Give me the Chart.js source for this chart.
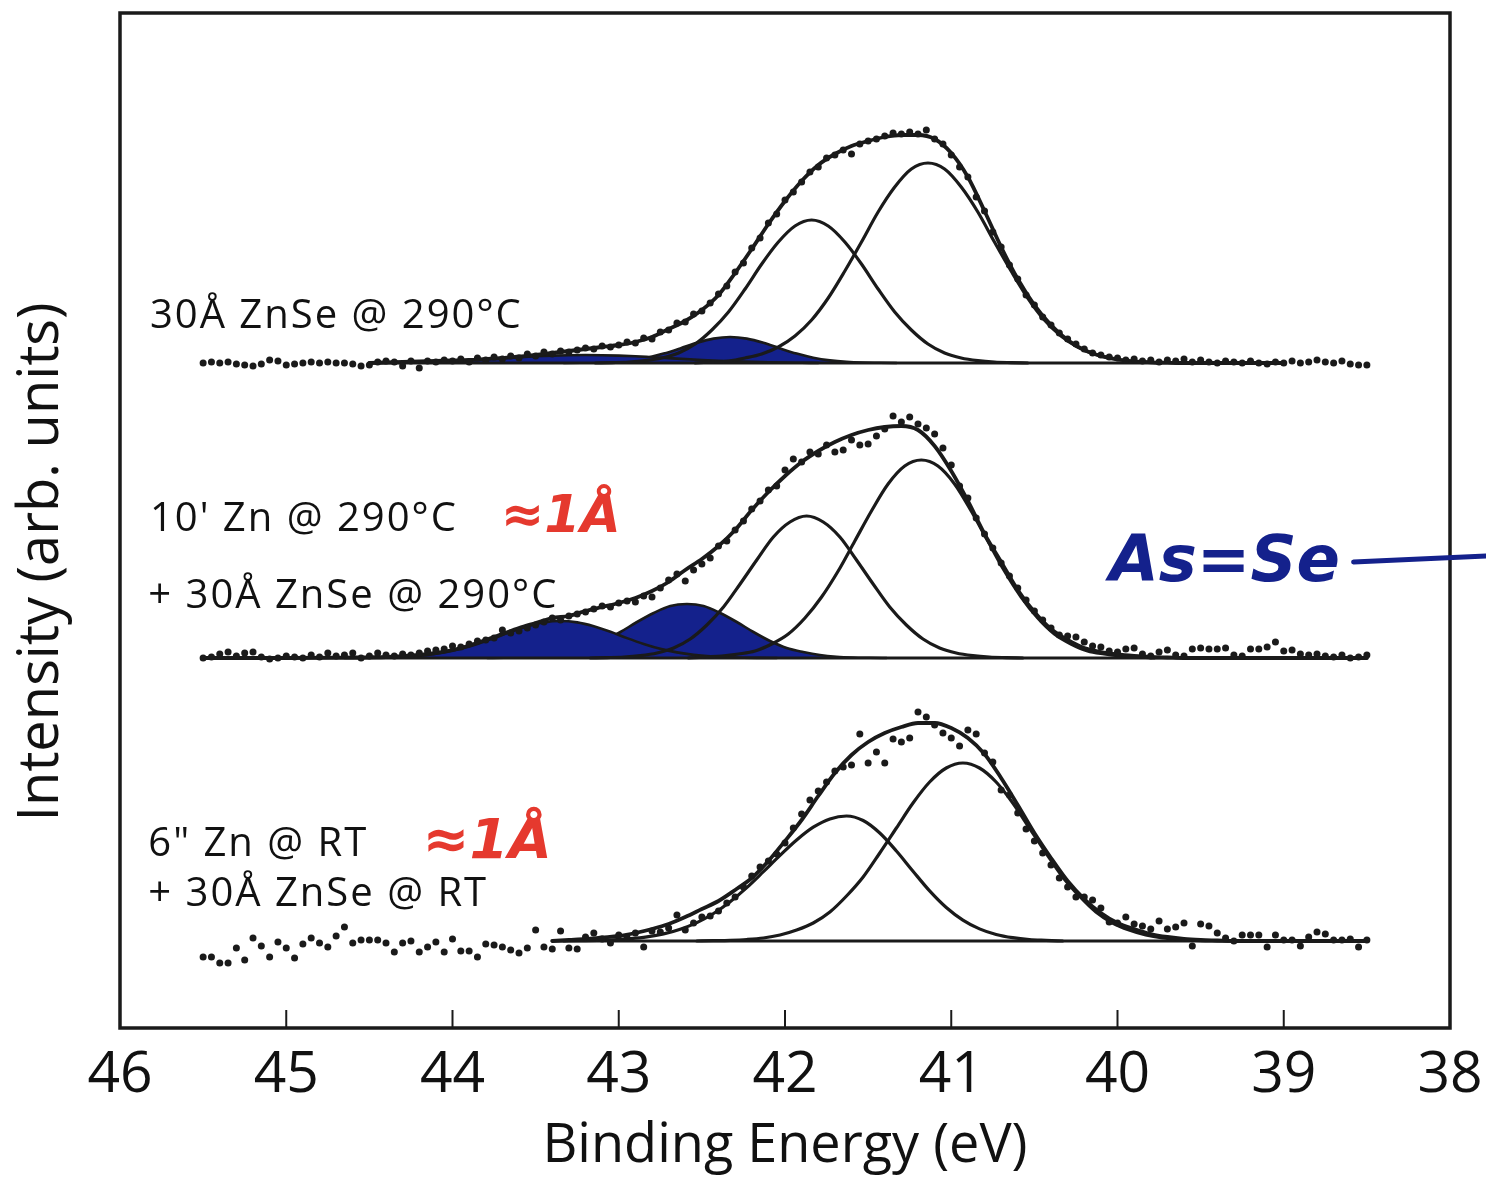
<!DOCTYPE html>
<html>
<head>
<meta charset="utf-8">
<title>Binding Energy spectra</title>
<script src="https://cdn.jsdelivr.net/npm/chart.js@4.4.1/dist/chart.umd.min.js"></script>
<style>
	html, body { margin: 0; background: #fff; }
	#wrap { width: 1486px; height: 1182px; }
</style>
</head>
<body>
<div id="wrap"><canvas id="xps" width="1486" height="1182"></canvas></div>
<script>
// x axis: binding energy (eV), drawn high -> low
const energyTicks = [46, 45, 44, 43, 42, 41, 40, 39, 38];

// the three spectra are stacked; each sits on its own baseline (arb. units)
const offsets = [665, 370, 87];
const fitRanges = [[44.5, 39.0], [45.5, 38.5], [43.4, 38.5]];

// ---- 30Å ZnSe @ 290°C ----
const topEnvelope = [[44.5,0],[44.4,0.5],[44.3,1],[44.2,1.5],[44.1,2],[44.0,2.5],[43.9,3],[43.8,4],[43.7,5],[43.6,6.5],
	[43.5,8],[43.4,10],[43.3,12],[43.2,14],[43.1,16],[43.0,18],[42.9,21],[42.8,26],[42.7,34],[42.6,42],
	[42.5,53],[42.4,68],[42.3,90],[42.2,114],[42.1,139],[42.0,162],[41.9,182],[41.8,198],[41.7,209],[41.6,217],
	[41.5,222],[41.4,226],[41.3,228],[41.2,228],[41.1,224],[41.0,210],[40.9,186],[40.8,152],[40.7,116],[40.6,84],
	[40.5,58],[40.4,38],[40.3,23],[40.2,13],[40.1,7],[40.0,3.5],[39.9,1.5],[39.8,0.7],[39.7,0.3],[39.6,0],[39.0,0]];
const topPeakA = [[43.14,0],[43.04,0.4],[42.94,1],[42.84,2.4],[42.74,5],[42.64,10],[42.54,19],[42.44,33],[42.34,51],[42.24,74],
	[42.14,99],[42.04,121],[41.94,137],[41.84,143],[41.74,137],[41.64,121],[41.54,99],[41.44,74],[41.34,51],[41.24,33],
	[41.14,19],[41.04,10],[40.94,5],[40.84,2.4],[40.74,1],[40.64,0.4],[40.54,0]];
const topPeakB = [[42.54,0],[42.44,1],[42.34,2],[42.24,5],[42.14,9],[42.04,16],[41.94,27],[41.84,43],[41.74,65],[41.64,92],
	[41.54,121],[41.44,151],[41.34,176],[41.24,194],[41.14,200],[41.04,194],[40.94,176],[40.84,151],[40.74,121],[40.64,92],
	[40.54,65],[40.44,43],[40.34,27],[40.24,16],[40.14,9],[40.04,5],[39.94,2],[39.84,1],[39.74,0]];
const topShadedA = [[44.5,0.3],[44.4,0.4],[44.3,0.7],[44.2,1.1],[44.1,1.6],[44.0,2.2],[43.9,3.0],[43.8,3.9],[43.7,4.9],[43.6,5.8],
	[43.5,6.7],[43.4,7.4],[43.3,7.8],[43.2,8],[43.1,7.8],[43.0,7.4],[42.9,6.7],[42.8,5.8],[42.7,4.9],[42.6,3.9],
	[42.5,3.0],[42.4,2.2],[42.3,1.6],[42.2,1.1],[42.1,0.7],[42.0,0.4],[41.9,0.2],[41.8,0]];
const topShadedB = [[43.33,0],[43.23,0.2],[43.13,0.4],[43.03,1.1],[42.93,2.6],[42.83,5.3],[42.73,9.4],[42.63,14.6],[42.53,20.2],[42.43,24.4],
	[42.33,26],[42.23,24.4],[42.13,20.2],[42.03,14.6],[41.93,9.4],[41.83,5.3],[41.73,2.6],[41.63,1.1],[41.53,0.4],[41.43,0.2],[41.33,0]];
const topDots = [
	[45.50,0],[45.45,1],[45.40,0],[45.35,1],[45.30,-1],[45.25,-2],[45.20,-3],[45.15,-1],[45.10,3],[45.05,2],
	[45.00,-2],[44.95,-1],[44.90,0],[44.85,1],[44.80,0],[44.75,1],[44.70,0],[44.65,0],[44.60,-1],[44.55,-3],
	[44.50,-2],[44.45,1],[44.40,2],[44.35,1],[44.30,-3],[44.25,2],[44.20,-5],[44.15,2],[44.10,1],[44.05,3],
	[44.00,2],[43.95,4],[43.90,1],[43.85,5],[43.80,3],[43.75,6],[43.70,4],[43.65,7],[43.60,5],[43.55,9],
	[43.50,7],[43.45,11],[43.40,9],[43.35,12],[43.30,11],[43.25,13],[43.20,15],[43.15,14],[43.10,17],[43.05,16],
	[43.00,18],[42.95,21],[42.90,20],[42.85,25],[42.80,24],[42.75,31],[42.70,33],[42.65,40],[42.60,41],[42.55,49],
	[42.50,52],[42.45,60],[42.40,69],[42.35,77],[42.30,91],[42.25,100],[42.20,115],[42.15,125],[42.10,140],[42.05,149],
	[42.00,163],[41.95,171],[41.90,181],[41.85,191],[41.80,196],[41.75,205],[41.70,208],[41.65,213],[41.60,209],[41.55,219],
	[41.50,222],[41.45,224],[41.40,227],[41.35,230],[41.30,229],[41.25,231],[41.20,229],[41.15,233],[41.10,224],[41.05,219],
	[41.00,208],[40.95,196],[40.90,186],[40.85,166],[40.80,152],[40.75,131],[40.70,116],[40.65,98],[40.60,84],[40.55,68],
	[40.50,58],[40.45,46],[40.40,38],[40.35,30],[40.30,24],[40.25,19],[40.20,14],[40.15,10],[40.10,8],[40.05,6],
	[40.00,5],[39.95,3],[39.90,4],[39.85,2],[39.80,3],[39.75,1],[39.70,3],[39.65,2],[39.60,4],[39.55,1],
	[39.50,3],[39.45,1],[39.40,0],[39.35,2],[39.30,1],[39.25,0],[39.20,2],[39.15,0],[39.10,-1],[39.05,1],
	[39.00,0],[38.95,2],[38.90,0],[38.85,1],[38.80,3],[38.75,1],[38.70,0],[38.65,2],[38.60,-1],[38.55,-2],[38.50,-2]];

// ---- 10' Zn @ 290°C + 30Å ZnSe @ 290°C ----
const midEnvelope = [[45.5,0],[45.0,0],[44.6,0.5],[44.5,0.7],[44.4,1],[44.3,1.8],[44.2,3],[44.1,5],[44.0,8],[43.9,12.5],
	[43.8,18],[43.7,24],[43.6,30],[43.5,35],[43.4,40],[43.3,42],[43.2,47],[43.1,51],[43.0,55],[42.9,60],
	[42.8,67],[42.7,76],[42.6,88],[42.5,99],[42.4,112],[42.3,128],[42.2,148],[42.1,166],[42.0,182],[41.9,196],
	[41.8,207],[41.7,216],[41.6,223],[41.5,228],[41.4,231],[41.3,232],[41.2,228],[41.1,212],[41.0,187],[40.9,157],
	[40.8,124],[40.7,96],[40.6,68],[40.5,46],[40.4,29],[40.3,18],[40.2,10],[40.1,6],[40.0,3.5],[39.9,2],
	[39.8,1],[39.7,0.5],[39.6,0],[38.5,0]];
const midPeakA = [[43.17,0],[43.07,0.4],[42.97,1],[42.87,2.4],[42.77,5],[42.67,10],[42.57,19],[42.47,33],[42.37,51],[42.27,74],
	[42.17,98],[42.07,121],[41.97,136],[41.87,142],[41.77,136],[41.67,121],[41.57,98],[41.47,74],[41.37,51],[41.27,33],
	[41.17,19],[41.07,10],[40.97,5],[40.87,2.4],[40.77,1],[40.67,0.4],[40.57,0]];
const midPeakB = [[42.58,0],[42.48,1],[42.38,2],[42.28,4],[42.18,7],[42.08,14],[41.98,24],[41.88,40],[41.78,61],[41.68,87],
	[41.58,117],[41.48,147],[41.38,174],[41.28,192],[41.18,198],[41.08,192],[40.98,174],[40.88,147],[40.78,117],[40.68,87],
	[40.58,61],[40.48,40],[40.38,24],[40.28,14],[40.18,7],[40.08,4],[39.98,2],[39.88,1],[39.78,0]];
const midShadedA = [[44.65,0],[44.55,0.1],[44.45,0.3],[44.35,0.8],[44.25,1.6],[44.15,3.1],[44.05,5.6],[43.95,9.2],[43.85,14.1],[43.75,19.9],
	[43.65,26.2],[43.55,31.7],[43.45,35.6],[43.35,37],[43.25,35.6],[43.15,31.7],[43.05,26.2],[42.95,19.9],[42.85,14.1],[42.75,9.2],
	[42.65,5.6],[42.55,3.1],[42.45,1.6],[42.35,0.8],[42.25,0.3],[42.15,0.1],[42.05,0]];
const midShadedB = [[43.79,0],[43.69,0.2],[43.59,0.5],[43.49,1.3],[43.39,3],[43.29,6],[43.19,10],[43.09,17],[42.99,26],[42.89,36],
	[42.79,45],[42.69,52],[42.59,54],[42.49,52],[42.39,45],[42.29,36],[42.19,26],[42.09,17],[41.99,10],[41.89,6],
	[41.79,3],[41.69,1.3],[41.59,0.5],[41.49,0.2],[41.39,0]];
const midDots = [
	[45.50,0],[45.45,1],[45.40,4],[45.35,6],[45.30,2],[45.25,5],[45.20,6],[45.15,1],[45.10,-1],[45.05,0],
	[45.00,2],[44.95,1],[44.90,0],[44.85,3],[44.80,1],[44.75,5],[44.70,2],[44.65,3],[44.60,5],[44.55,0],
	[44.50,2],[44.45,5],[44.40,3],[44.35,2],[44.30,4],[44.25,3],[44.20,5],[44.15,7],[44.10,8],[44.05,9],
	[44.00,12],[43.95,11],[43.90,14],[43.85,17],[43.80,18],[43.75,20],[43.70,28],[43.65,25],[43.60,27],[43.55,30],
	[43.50,33],[43.45,36],[43.40,40],[43.35,38],[43.30,42],[43.25,44],[43.20,46],[43.15,49],[43.10,52],[43.05,51],
	[43.00,55],[42.95,57],[42.90,56],[42.85,62],[42.80,61],[42.75,70],[42.70,78],[42.65,84],[42.60,77],[42.55,88],
	[42.50,94],[42.45,100],[42.40,112],[42.35,117],[42.30,128],[42.25,137],[42.20,149],[42.15,157],[42.10,168],[42.05,172],
	[42.00,188],[41.95,199],[41.90,196],[41.85,206],[41.80,204],[41.75,213],[41.70,206],[41.65,208],[41.60,218],[41.55,213],
	[41.50,214],[41.45,222],[41.40,229],[41.35,242],[41.30,236],[41.25,241],[41.20,234],[41.15,230],[41.10,224],[41.05,210],
	[41.00,193],[40.95,172],[40.90,160],[40.85,140],[40.80,124],[40.75,110],[40.70,95],[40.65,82],[40.60,70],[40.55,58],
	[40.50,47],[40.45,38],[40.40,30],[40.35,23],[40.30,22],[40.25,21],[40.20,16],[40.15,12],[40.10,11],[40.05,7],
	[40.00,6],[39.95,9],[39.90,10],[39.85,4],[39.80,2],[39.75,6],[39.70,8],[39.65,3],[39.60,2],[39.55,9],
	[39.50,10],[39.45,9],[39.40,9],[39.35,10],[39.30,3],[39.25,2],[39.20,9],[39.15,9],[39.10,11],[39.05,16],
	[39.00,7],[38.95,8],[38.90,4],[38.85,3],[38.80,4],[38.75,2],[38.70,1],[38.65,3],[38.60,0],[38.55,1],[38.50,3]];

// ---- 6" Zn @ RT + 30Å ZnSe @ RT ----
const botEnvelope = [[43.4,0],[43.3,1],[43.2,2],[43.1,3.5],[43.0,5],[42.9,8],[42.8,12],[42.7,17],[42.6,24],[42.5,32],
	[42.4,40],[42.3,51],[42.2,63],[42.1,80],[42.0,100],[41.9,121],[41.8,145],[41.7,168],[41.6,186],[41.5,199],
	[41.4,208],[41.3,214],[41.2,218],[41.1,218],[41.0,213],[40.9,203],[40.8,187],[40.7,163],[40.6,136],[40.5,108],
	[40.4,83],[40.3,60],[40.2,42],[40.1,28],[40.0,18],[39.9,12],[39.8,7],[39.7,4],[39.6,2],[39.5,1],
	[39.4,0.5],[39.3,0],[38.5,0]];
const botPeakA = [[43.33,0],[43.23,0.3],[43.13,0.6],[43.03,1.2],[42.93,2.3],[42.83,4.1],[42.73,7.1],[42.63,11.8],[42.53,18.4],[42.43,27.5],
	[42.33,39.3],[42.23,53.4],[42.13,69.3],[42.03,85.6],[41.93,101],[41.83,113.8],[41.73,122.1],[41.63,125],[41.53,120.5],[41.43,108],
	[41.33,90],[41.23,69.8],[41.13,50.1],[41.03,33.5],[40.93,20.9],[40.83,12.1],[40.73,6.5],[40.63,3.3],[40.53,1.5],[40.43,0.7],[40.33,0]];
const botPeakB = [[42.53,0],[42.43,0.3],[42.33,0.7],[42.23,1.5],[42.13,3],[42.03,6],[41.93,11],[41.83,18],[41.73,29],[41.63,45],
	[41.53,64],[41.43,88],[41.33,113],[41.23,138],[41.13,159],[41.03,173],[40.93,178],[40.83,173],[40.73,159],[40.63,138],
	[40.53,113],[40.43,88],[40.33,64],[40.23,45],[40.13,29],[40.03,18],[39.93,11],[39.83,6],[39.73,3],[39.63,1.5],
	[39.53,0.7],[39.43,0.3],[39.33,0]];
const botDots = [
	[45.50,-16],[45.45,-16],[45.40,-22],[45.35,-22],[45.30,-7],[45.25,-19],[45.20,3],[45.15,-5],[45.10,-16],[45.05,-1],
	[45.00,-7],[44.95,-17],[44.90,-3],[44.85,3],[44.80,-2],[44.75,-6],[44.70,5],[44.65,14],[44.60,-2],[44.55,1],
	[44.50,1],[44.45,1],[44.40,-2],[44.35,-11],[44.30,-2],[44.25,0],[44.20,-11],[44.15,-6],[44.10,-1],[44.05,-11],
	[44.00,2],[43.95,-10],[43.90,-10],[43.85,-16],[43.80,-3],[43.75,-4],[43.70,-6],[43.65,-9],[43.60,-12],[43.55,-7],
	[43.50,11],[43.45,-6],[43.40,-8],[43.35,10],[43.30,-7],[43.25,-8],[43.20,4],[43.15,8],[43.10,2],[43.05,-2],
	[43.00,6],[42.95,3],[42.90,8],[42.85,-6],[42.80,10],[42.75,9],[42.70,13],[42.65,26],[42.60,11],[42.55,18],
	[42.50,24],[42.45,25],[42.40,30],[42.35,38],[42.30,44],[42.25,54],[42.20,65],[42.15,74],[42.10,80],[42.05,87],
	[42.00,98],[41.95,113],[41.90,127],[41.85,141],[41.80,150],[41.75,159],[41.70,170],[41.65,174],[41.60,176],[41.55,207],
	[41.50,178],[41.45,189],[41.40,178],[41.35,202],[41.30,199],[41.25,203],[41.20,229],[41.15,224],[41.10,216],[41.05,208],
	[41.00,203],[40.95,195],[40.90,211],[40.85,207],[40.80,188],[40.75,179],[40.70,151],[40.65,146],[40.60,128],[40.55,112],
	[40.50,100],[40.45,88],[40.40,76],[40.35,63],[40.30,54],[40.25,44],[40.20,44],[40.15,41],[40.10,33],[40.05,19],
	[40.00,18],[39.95,24],[39.90,17],[39.85,15],[39.80,12],[39.75,20],[39.70,12],[39.65,14],[39.60,18],[39.55,-5],
	[39.50,17],[39.45,15],[39.40,8],[39.35,3],[39.30,0],[39.25,6],[39.20,6],[39.15,6],[39.10,-6],[39.05,6],
	[39.00,1],[38.95,1],[38.90,-5],[38.85,4],[38.80,9],[38.75,7],[38.70,1],[38.65,1],[38.60,2],[38.55,-6],[38.50,1]];

// sample names and the pen notes, anchored in (eV, intensity)
const sampleLabels = ["30Å ZnSe @ 290°C", "10' Zn @ 290°C", "+ 30Å ZnSe @ 290°C", "6\" Zn @ RT", "+ 30Å ZnSe @ RT"];
const sampleAnchors = [[45.82, 700], [45.82, 497], [45.83, 420], [45.83, 172], [45.83, 122]];
const penNotes = ["≈1Å", "≈1Å", "As=Se"];
const penAnchors = [[43.71, 496], [44.18, 170], [40.05, 447]];
const penLine = [[38.58, 466], [37.78, 472]];

const ink = "#1a1a1a";
const red = "#e5392e";
const navy = "#14218c";

function toPoints(pairs, offset) {
	return pairs.map(([e, h]) => ({ x: e, y: h + offset }));
}

function curve(pairs, offset, width, order) {
	return {
		data: toPoints(pairs, offset),
		borderColor: ink,
		borderWidth: width,
		pointRadius: 0,
		cubicInterpolationMode: "monotone",
		borderJoinStyle: "round",
		borderCapStyle: "round",
		fill: false,
		order,
	};
}

const spectra = [
	{ offset: offsets[0], range: fitRanges[0], fit: topEnvelope, peaks: [topPeakA, topPeakB], shaded: [topShadedA, topShadedB], dots: topDots },
	{ offset: offsets[1], range: fitRanges[1], fit: midEnvelope, peaks: [midPeakA, midPeakB], shaded: [midShadedA, midShadedB], dots: midDots },
	{ offset: offsets[2], range: fitRanges[2], fit: botEnvelope, peaks: [botPeakA, botPeakB], shaded: [], dots: botDots },
];

const datasets = [];
spectra.forEach((s) => {
	datasets.push({
		data: toPoints(s.dots, s.offset),
		showLine: false,
		pointRadius: 3.5,
		pointBackgroundColor: ink,
		pointBorderWidth: 0,
		order: 0,
	});
	datasets.push(curve(s.fit, s.offset, 3.8, 1));
	s.peaks.forEach((p) => datasets.push(curve(p, s.offset, 3.2, 2)));
	datasets.push(curve([[s.range[0], 0], [s.range[1], 0]], s.offset, 3.2, 3));
	s.shaded.forEach((p) => {
		datasets.push({ ...curve(p, s.offset, 2.6, 4), fill: { value: s.offset }, backgroundColor: navy });
	});
});

const decorations = {
	id: "decorations",
	afterDraw(chart) {
		const { ctx, chartArea: area, scales: { x, y } } = chart;
		ctx.save();
		ctx.strokeStyle = ink;
		ctx.lineWidth = 3.5;
		ctx.strokeRect(area.left, area.top, area.right - area.left, area.bottom - area.top);

		// inward tick marks on the energy axis
		ctx.lineWidth = 2;
		x.ticks.forEach((t) => {
			if (t.value <= x.min || t.value >= x.max) return;
			const px = x.getPixelForValue(t.value);
			ctx.beginPath();
			ctx.moveTo(px, area.bottom);
			ctx.lineTo(px, area.bottom - 18);
			ctx.stroke();
		});

		ctx.fillStyle = "#111";
		ctx.textAlign = "left";
		ctx.textBaseline = "alphabetic";
		ctx.font = '40px "Open Sans"';
		ctx.letterSpacing = "2px";
		sampleLabels.forEach((text, i) => {
			const [e, v] = sampleAnchors[i];
			ctx.fillText(text, x.getPixelForValue(e), y.getPixelForValue(v));
		});
		ctx.letterSpacing = "0px";

		penNotes.forEach((text, i) => {
			const [e, v] = penAnchors[i];
			const blue = text === "As=Se";
			ctx.fillStyle = blue ? navy : red;
			ctx.font = blue ? 'italic bold 64px "DejaVu Sans"' : 'italic bold ' + (i === 1 ? 56 : 52) + 'px "DejaVu Sans"';
			ctx.fillText(text, x.getPixelForValue(e), y.getPixelForValue(v));
		});
		ctx.strokeStyle = navy;
		ctx.lineWidth = 5;
		ctx.lineCap = "round";
		ctx.beginPath();
		ctx.moveTo(x.getPixelForValue(penLine[0][0]), y.getPixelForValue(penLine[0][1]));
		ctx.lineTo(x.getPixelForValue(penLine[1][0]), y.getPixelForValue(penLine[1][1]));
		ctx.stroke();

		// y axis title
		ctx.fillStyle = "#111";
		ctx.font = '56px "Open Sans"';
		ctx.textAlign = "center";
		ctx.textBaseline = "middle";
		ctx.translate(42, 562);
		ctx.rotate(-Math.PI / 2);
		ctx.fillText("Intensity (arb. units)", 0, 0);
		ctx.restore();
	},
};

function draw() {
	new Chart(document.getElementById("xps"), {
		type: "line",
		data: { datasets },
		plugins: [decorations],
		options: {
			responsive: false,
			animation: false,
			devicePixelRatio: 1,
			events: [],
			layout: { padding: { top: 13, right: 36, left: 120, bottom: 0 } },
			plugins: { legend: { display: false }, tooltip: { enabled: false } },
			scales: {
				x: {
					type: "linear",
					reverse: true,
					min: 38,
					max: 46,
					afterBuildTicks: (scale) => {
						scale.ticks = energyTicks.map((value) => ({ value }));
					},
					afterFit: (scale) => {
						scale.height = 154;
						scale.paddingLeft = 0;
						scale.paddingRight = 0;
					},
					grid: { display: false, drawTicks: false },
					border: { display: false },
					ticks: {
						autoSkip: false,
						maxRotation: 0,
						padding: 14,
						color: "#111",
						font: { family: "Open Sans", size: 57 },
					},
					title: {
						display: true,
						text: "Binding Energy (eV)",
						color: "#111",
						font: { family: "Open Sans", size: 54 },
						padding: { top: 0, bottom: 3 },
					},
				},
				y: { display: false, min: 0, max: 1015 },
			},
		},
	});
}

document.fonts.load('40px "Open Sans"').then(draw, draw);
</script>
</body>
</html>
